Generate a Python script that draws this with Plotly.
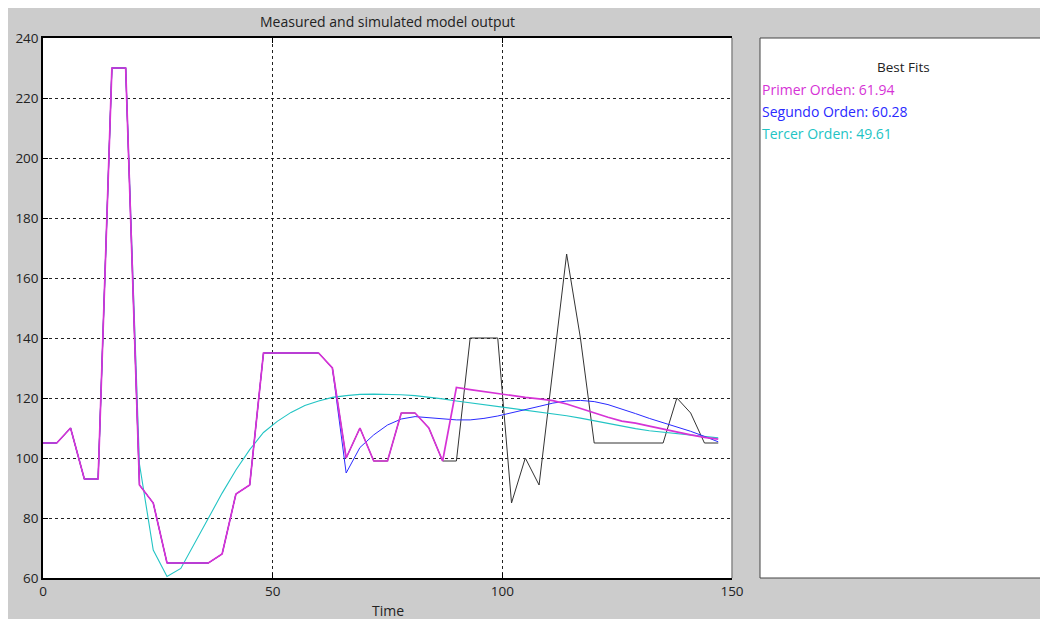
import plotly.graph_objects as go

# Sample times (s)
time = list(range(0, 150, 3))

# Measured output
measured = [105, 105, 110, 93, 93, 230, 230, 91, 85, 65,
            65, 65, 65, 68, 88, 91, 135, 135, 135, 135,
            135, 130, 100, 110, 99, 99, 115, 115, 110, 99,
            99, 140, 140, 140, 85, 100, 91, 130, 168, 140,
            105, 105, 105, 105, 105, 105, 120, 115, 105, 105]

# Simulated model outputs
primer_orden = [105, 105, 110, 93, 93, 230, 230, 91, 85, 65,
                65, 65, 65, 68, 88, 91, 135, 135, 135, 135,
                135, 130, 100, 110, 99, 99, 115, 115, 110, 99,
                123.5, 122.8, 122.1, 121.4, 120.8, 120.2, 119.7, 119.1, 118.0, 116.5,
                115.0, 113.6, 112.3, 111.6, 110.6, 109.6, 108.5, 107.7, 106.9, 106.3]

segundo_orden = [105, 105, 110, 93, 93, 230, 230, 91, 85, 65,
                 65, 65, 65, 68, 88, 91, 135, 135, 135, 135,
                 135, 130, 95, 103.5, 107.7, 111.0, 113.0, 113.8, 113.5, 113.0,
                 112.7, 112.7, 113.2, 114.0, 115.0, 116.0, 117.2, 118.3, 119.0, 119.2,
                 118.8, 117.8, 116.4, 114.8, 113.2, 111.8, 110.5, 108.9, 107.2, 105.4]

tercer_orden = [105, 105, 110, 93, 93, 230, 230, 98, 69.3, 60.5,
                63.2, 71.5, 80.0, 88.3, 96.0, 102.8, 108.5, 112.2, 115.2, 117.5,
                119.0, 120.2, 120.8, 121.2, 121.3, 121.3, 121.1, 120.8, 120.3, 119.7,
                119.0, 118.4, 117.8, 117.2, 116.6, 116.0, 115.4, 114.8, 114.1, 113.3,
                112.4, 111.5, 110.6, 109.8, 109.1, 108.6, 108.2, 107.7, 107.2, 106.7]

fit_labels = ["Primer Orden: 61.94", "Segundo Orden: 60.28", "Tercer Orden: 49.61"]

C_MEAS = "#333333"
C_P1 = "#d633d6"
C_P2 = "#2a2aff"
C_P3 = "#22c4c4"
FONT = "Open Sans"

fig = go.Figure()
for y, c, w in [(measured, C_MEAS, 1.0), (tercer_orden, C_P3, 1.1),
                (segundo_orden, C_P2, 1.0), (primer_orden, C_P1, 1.7)]:
    fig.add_trace(go.Scatter(x=time, y=y, mode="lines",
                             line=dict(color=c, width=w), showlegend=False))

W, H = 1040, 619
L, R, T, B = 43, 308, 38, 41
pw, ph = W - L - R, H - T - B


def px(xp):
    return (xp - L) / pw


def py(yp):
    return (H - B - yp) / ph


shapes = [
    # grey window background
    dict(type="rect", xref="paper", yref="paper", x0=px(8), x1=px(1045), y0=py(625), y1=py(8),
         fillcolor="#cccccc", line=dict(width=0), layer="below"),
    # axes area
    dict(type="rect", xref="paper", yref="paper", x0=0, x1=1, y0=0, y1=1,
         fillcolor="white", line=dict(width=0), layer="below"),
    # fit panel
    dict(type="rect", xref="paper", yref="paper", x0=px(760), x1=px(1060), y0=0, y1=1,
         fillcolor="white", line=dict(color="#444444", width=1), layer="below"),
    # right edge of axes
    dict(type="line", xref="paper", yref="paper", x0=1, x1=1, y0=0, y1=1,
         line=dict(color="#888888", width=1.5)),
]

annotations = [
    dict(text="Measured and simulated model output", x=0.5, y=py(21), xref="paper", yref="paper",
         xanchor="center", yanchor="middle", showarrow=False, font=dict(family=FONT, size=14, color="#222")),
    dict(text="Time", x=0.5, y=py(610), xref="paper", yref="paper",
         xanchor="center", yanchor="middle", showarrow=False, font=dict(family=FONT, size=14, color="#222")),
    dict(text="Best Fits", x=px(903), y=py(67), xref="paper", yref="paper",
         xanchor="center", yanchor="middle", showarrow=False, font=dict(family=FONT, size=13.5, color="#222")),
]
for lbl, c, yp in zip(fit_labels, [C_P1, C_P2, C_P3], [89, 111, 133]):
    annotations.append(dict(text=lbl, x=px(760), y=py(yp), xref="paper", yref="paper",
                            xanchor="left", yanchor="middle", showarrow=False,
                            font=dict(family=FONT, size=14, color=c)))

axis_common = dict(showgrid=True, gridcolor="#222222", gridwidth=1, griddash="3px,3px",
                   zeroline=False, ticks="inside", ticklen=5, tickcolor="black",
                   tickfont=dict(family=FONT, size=13.5, color="#222"))

fig.update_layout(
    width=W, height=H, autosize=False,
    margin=dict(l=L, r=R, t=T, b=B, pad=0),
    paper_bgcolor="white", plot_bgcolor="white",
    xaxis=dict(range=[0, 150], tickvals=[0, 50, 100, 150], showline=True, linecolor="black",
               linewidth=1.5, mirror="ticks", **axis_common),
    yaxis=dict(range=[60, 240], dtick=20, showline=True, linecolor="black",
               linewidth=1.5, **axis_common),
    shapes=shapes, annotations=annotations,
)

fig.write_html("out.html")
